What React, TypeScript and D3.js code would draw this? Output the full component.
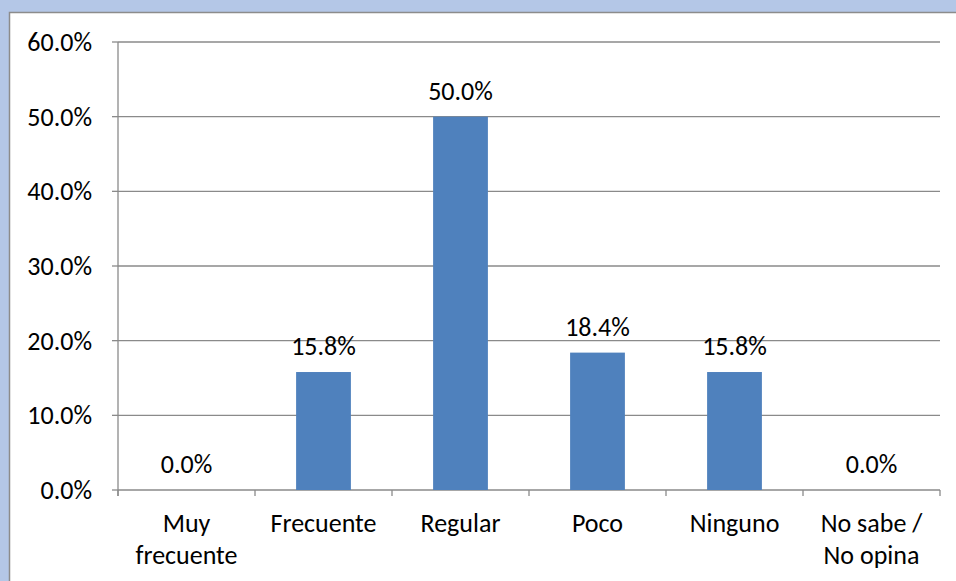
import React from "react";
import * as d3 from "d3";

const categories: string[][] = [
  ["Muy", "frecuente"],
  ["Frecuente"],
  ["Regular"],
  ["Poco"],
  ["Ninguno"],
  ["No sabe /", "No opina"],
];
const values: number[] = [0.0, 15.8, 50.0, 18.4, 15.8, 0.0];
const yTicks: number[] = [0, 10, 20, 30, 40, 50, 60];

const W = 956;
const H = 581;
const left = 118;
const right = 940;
const top = 42;
const bottom = 490;
const font = "Carlito, Calibri, 'Open Sans', sans-serif";

export default function App() {
  const x = d3
    .scaleBand<number>()
    .domain(d3.range(categories.length))
    .range([left, right])
    .paddingInner(0.6)
    .paddingOuter(0.3);
  const band = (right - left) / categories.length;
  const y = d3.scaleLinear().domain([0, 60]).range([bottom, top]);
  const fs = 26;
  return (
    <svg
      width={W}
      height={H}
      style={{ position: "fixed", left: 0, top: 0, display: "block" }}
      fontFamily={font}
    >
      <rect x={0} y={0} width={W} height={H} fill="#B4C7E7" />
      <rect x={9.5} y={12.5} width={W} height={H} fill="#fff" stroke="#8C8C8C" strokeWidth={1.5} />
      {yTicks.map((t) => (
        <g key={t}>
          <line x1={left} x2={right} y1={y(t)} y2={y(t)} stroke="#8A8A8A" strokeWidth={1.3} />
          <line x1={left - 6} x2={left} y1={y(t)} y2={y(t)} stroke="#8A8A8A" strokeWidth={1.3} />
          <text x={92} y={y(t)} dy="0.35em" textAnchor="end" fontSize={fs} fill="#000">
            {t.toFixed(1) + "%"}
          </text>
        </g>
      ))}
      <line x1={left} x2={left} y1={top} y2={bottom + 6} stroke="#8A8A8A" strokeWidth={1.3} />
      {d3.range(categories.length + 1).map((i) => (
        <line
          key={i}
          x1={left + band * i}
          x2={left + band * i}
          y1={bottom}
          y2={bottom + 6}
          stroke="#8A8A8A"
          strokeWidth={1.3}
        />
      ))}
      {values.map((v, i) => (
        <g key={i}>
          <rect x={x(i)} y={y(v)} width={x.bandwidth()} height={bottom - y(v)} fill="#4F81BD" />
          <text
            x={(x(i) as number) + x.bandwidth() / 2}
            y={y(v) - 26}
            dy="0.35em"
            textAnchor="middle"
            fontSize={fs}
            fill="#000"
          >
            {v.toFixed(1) + "%"}
          </text>
          {categories[i].map((line, j) => (
            <text
              key={j}
              x={(x(i) as number) + x.bandwidth() / 2}
              y={523 + j * 32}
              dy="0.35em"
              textAnchor="middle"
              fontSize={fs}
              fill="#000"
            >
              {line}
            </text>
          ))}
        </g>
      ))}
    </svg>
  );
}
